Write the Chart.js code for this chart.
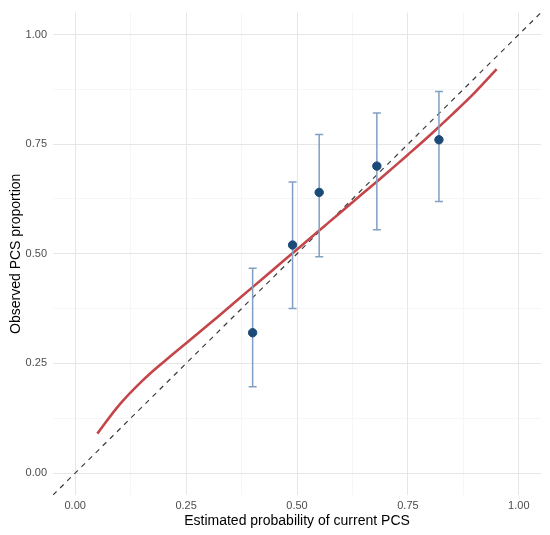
<!DOCTYPE html>
<html>
<head>
<meta charset="utf-8">
<script src="https://cdn.jsdelivr.net/npm/chart.js@4"></script>
<style>
  html, body { margin: 0; background: #fff; }
</style>
</head>
<body>
<canvas id="calibration" width="550" height="535"></canvas>
<script>
// axis ticks (minor every 0.125, labels only on the majors)
const probTicks = [0, 0.125, 0.25, 0.375, 0.5, 0.625, 0.75, 0.875, 1];
const majorTicks = [0, 0.25, 0.5, 0.75, 1];

// grouped observations with their intervals
const binPredicted = [0.40, 0.49, 0.55, 0.68, 0.82];
const binObserved = [0.32, 0.52, 0.64, 0.70, 0.76];
const binLower = [0.197, 0.375, 0.493, 0.555, 0.619];
const binUpper = [0.467, 0.664, 0.772, 0.821, 0.870];

// smoothed calibration curve
const curveX = [0.05, 0.10, 0.15, 0.20, 0.25, 0.30, 0.35, 0.40, 0.45, 0.50,
                0.55, 0.60, 0.65, 0.70, 0.75, 0.80, 0.85, 0.90, 0.95];
const curveY = [0.090, 0.156, 0.209, 0.254, 0.296, 0.338, 0.381, 0.424, 0.467, 0.510,
                0.553, 0.596, 0.639, 0.682, 0.726, 0.771, 0.818, 0.867, 0.921];

// line of perfect calibration
const diagonal = [-0.05, 1.05];

const toPoints = (xs, ys) => xs.map((v, i) => ({ x: v, y: ys[i] }));

const errorBars = {
  id: "errorBars",
  beforeDatasetDraw(chart, args) {
    if (args.index !== 0) return;
    const { x, y } = chart.scales;
    const ctx = chart.ctx;
    ctx.save();
    ctx.strokeStyle = "#819fc2";
    ctx.lineWidth = 1.5;
    binPredicted.forEach((p, i) => {
      const px = x.getPixelForValue(p);
      const top = y.getPixelForValue(binUpper[i]);
      const bottom = y.getPixelForValue(binLower[i]);
      ctx.beginPath();
      ctx.moveTo(px, top);
      ctx.lineTo(px, bottom);
      ctx.moveTo(px - 4, top);
      ctx.lineTo(px + 4, top);
      ctx.moveTo(px - 4, bottom);
      ctx.lineTo(px + 4, bottom);
      ctx.stroke();
    });
    ctx.restore();
  },
};

const gridColor = (c) =>
  majorTicks.includes(c.tick.value) ? "#e6e6e6" : "#f0f0f0";
const gridWidth = (c) => (majorTicks.includes(c.tick.value) ? 1 : 0.6);

function axis(title, tickPadding, titlePadding, fitSize) {
  return {
    type: "linear",
    min: -0.05,
    max: 1.05,
    afterBuildTicks: (scale) => {
      scale.ticks = probTicks.map((v) => ({ value: v }));
    },
    afterFit: fitSize,
    border: { display: false },
    grid: { color: gridColor, lineWidth: gridWidth, drawTicks: false },
    ticks: {
      padding: tickPadding,
      color: "#4d4d4d",
      font: { family: "Liberation Sans", size: 11 },
      callback: (v) => (majorTicks.includes(v) ? v.toFixed(2) : ""),
    },
    title: {
      display: true,
      text: title,
      color: "#000",
      padding: titlePadding,
      font: { family: "Liberation Sans", size: 14 },
    },
  };
}

new Chart(document.getElementById("calibration"), {
  type: "scatter",
  data: {
    datasets: [
      {
        data: toPoints(binPredicted, binObserved),
        backgroundColor: "#1b4a78",
        borderColor: "#1b4a78",
        pointRadius: 4.2,
        order: 0,
      },
      {
        data: toPoints(curveX, curveY),
        showLine: true,
        tension: 0.4,
        borderColor: "#c4464b",
        borderWidth: 2.6,
        pointRadius: 0,
        order: 1,
      },
      {
        data: toPoints(diagonal, diagonal),
        showLine: true,
        borderColor: "#3d3d3d",
        borderWidth: 1.2,
        borderDash: [5, 5],
        pointRadius: 0,
        order: 2,
      },
    ],
  },
  options: {
    responsive: false,
    animation: false,
    layout: { padding: { top: 8, right: 9, left: 0, bottom: 0 } },
    plugins: {
      legend: { display: false },
      tooltip: { enabled: false },
    },
    scales: {
      x: axis("Estimated probability of current PCS", 4, { top: 0, bottom: 5 },
        (s) => { s.height = 40; }),
      y: axis("Observed PCS proportion", 6, { top: 8, bottom: 0 },
        (s) => { s.width = 53; }),
    },
  },
  plugins: [errorBars],
});
</script>
</body>
</html>
